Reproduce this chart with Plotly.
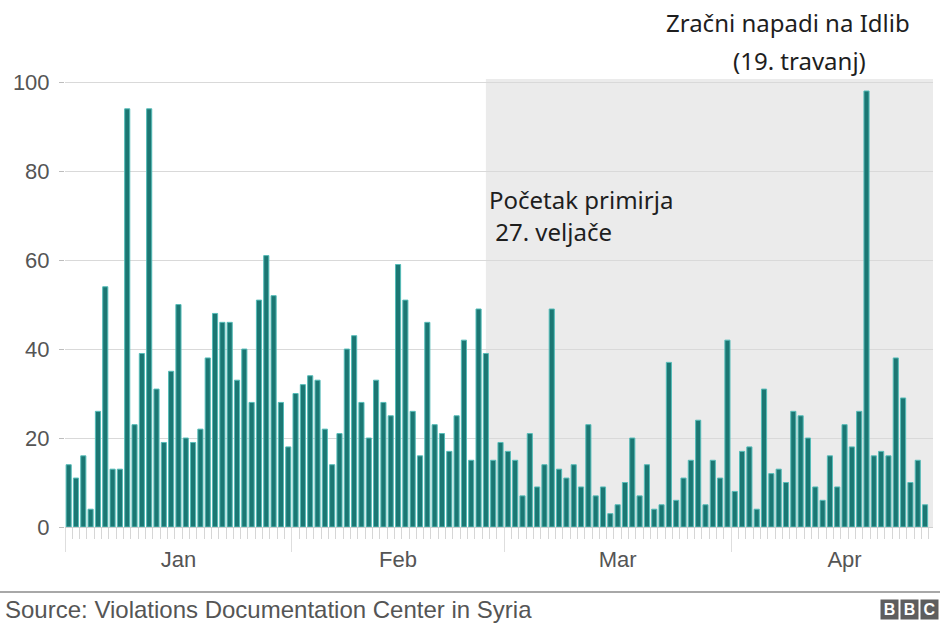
import pandas as pd
import plotly.graph_objects as go

# ---- data ----
dates = pd.date_range("2016-01-01", periods=118, freq="D")
values = [
    14, 11, 16, 4, 26, 54, 13, 13, 94, 23, 39, 94, 31, 19, 35, 50, 20, 19, 22, 38,
    48, 46, 46, 33, 40, 28, 51, 61, 52,
    28, 18, 30, 32, 34, 33, 22, 14, 21, 40, 43, 28, 20, 33, 28, 25, 59, 51, 26, 16,
    46, 23, 21, 17, 25, 42, 15, 49, 39,
    15, 19, 17, 15, 7, 21, 9, 14, 49, 13, 11, 14, 9, 23, 7, 9, 3, 5, 10, 20,
    7, 14, 4, 5, 37, 6, 11, 15, 24, 5,
    15, 11, 42, 8, 17, 18, 4, 31, 12, 13, 10, 26, 25, 20, 9, 6, 16, 9, 23, 18,
    26, 98, 16, 17, 16, 38, 29, 10, 15, 5,
]
y_ticks = [0, 20, 40, 60, 80, 100]
ceasefire_start = "2016-02-27 12:00"
x_range = ["2016-01-01", "2016-04-28 14:00"]

label_truce = ["Početak primirja", " 27. veljače"]
label_idlib = ["Zračni napadi na Idlib", "(19. travanj)"]
source_text = "Source: Violations Documentation Center in Syria"

# ---- geometry helpers (pixel -> paper) ----
W, H = 940, 623
L, R, T, B = 65, 7, 79, 96
PW, PH = W - L - R, H - T - B


def px(x):
    return (x - L) / PW


def py(y):
    return (H - B - y) / PH


fig = go.Figure()
fig.add_trace(go.Bar(
    x=dates, y=values,
    xperiod=86400000, xperiodalignment="middle",
    marker=dict(color="#1b7773", line=dict(color="#55bcb8", width=1)),
    hoverinfo="x+y",
))

# shaded ceasefire period
fig.add_shape(type="rect", xref="x", yref="paper",
              x0=ceasefire_start, x1=x_range[1], y0=0, y1=1,
              fillcolor="#ebebeb", line=dict(width=0), layer="below")

# footer rule
fig.add_shape(type="line", xref="paper", yref="paper",
              x0=px(0), x1=px(W), y0=py(592), y1=py(592),
              line=dict(color="#a8a8a8", width=2))

ann_font = dict(family="Noto Sans", size=24, color="#1e1e1e")
annotations = [
    dict(text=label_idlib[0], x=px(664), y=py(22), xanchor="left", yanchor="middle"),
    dict(text=label_idlib[1], x=px(731), y=py(60), xanchor="left", yanchor="middle"),
    dict(text=label_truce[0], x=px(487), y=py(199), xanchor="left", yanchor="middle"),
    dict(text=label_truce[1], x=px(487), y=py(231), xanchor="left", yanchor="middle"),
]
for a in annotations:
    a.update(xref="paper", yref="paper", showarrow=False, font=ann_font)

annotations.append(dict(text=source_text, xref="paper", yref="paper",
                        x=px(3), y=py(609), xanchor="left", yanchor="middle",
                        showarrow=False,
                        font=dict(family="Liberation Sans", size=24, color="#555555")))

for i, ch in enumerate(["B", "B", "C"]):
    annotations.append(dict(text="<b>%s</b>" % ch, xref="paper", yref="paper",
                            x=px(889 + 20 * i), y=py(609), xanchor="center", yanchor="middle",
                            showarrow=False, width=17, height=19, bgcolor="#5e5e5e",
                            borderpad=0,
                            font=dict(family="Liberation Sans", size=16, color="#ffffff")))

fig.update_layout(
    width=W, height=H,
    margin=dict(l=L, r=R, t=T, b=B),
    paper_bgcolor="white", plot_bgcolor="white",
    bargap=0.3,
    showlegend=False,
    annotations=annotations,
    font=dict(family="Liberation Sans", color="#555555"),
)

fig.update_xaxes(
    type="date", range=x_range,
    tick0="2016-01-01", dtick="M1", tickformat="%b", ticklabelmode="period",
    ticks="outside", ticklen=24, tickcolor="#dedede", tickwidth=1,
    ticklabelstandoff=-11,
    tickfont=dict(family="Liberation Sans", size=22, color="#555555"),
    showgrid=False, zeroline=False,
    showline=True, linecolor="#cfcfcf", linewidth=1,
    minor=dict(dtick=86400000, tick0="2016-01-01", ticks="outside", ticklen=11,
               tickcolor="#d6d6d6", tickwidth=1, showgrid=False),
)
fig.update_yaxes(
    range=[0, 100.7], tickvals=y_ticks,
    ticks="outside", ticklen=5, tickcolor="#bdbdbd",
    ticklabelstandoff=5,
    tickfont=dict(family="Liberation Sans", size=22, color="#555555"),
    showgrid=True, gridcolor="#d9d9d9", gridwidth=1,
    zeroline=False, showline=False,
)

fig.write_html(
    "out.html",
    config={"displayModeBar": False},
    post_script="document.body.style.margin='0';document.body.style.overflow='hidden';",
)
